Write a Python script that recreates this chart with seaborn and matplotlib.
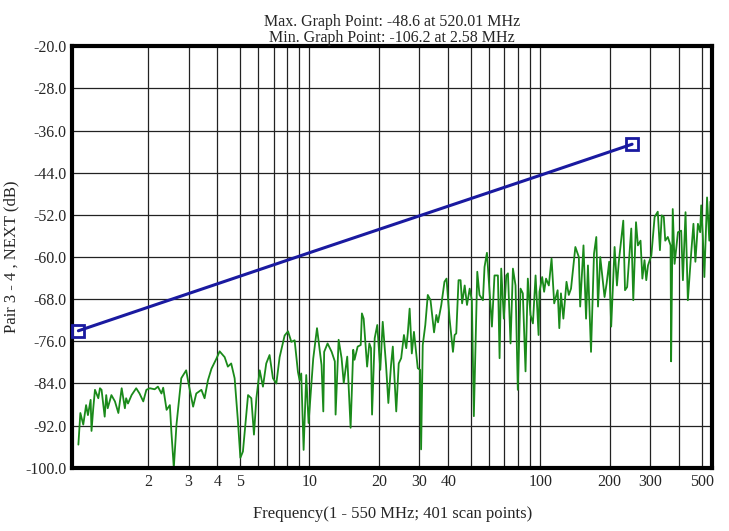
import numpy as np
import pandas as pd
import matplotlib
matplotlib.use("Agg")
import matplotlib.pyplot as plt
import seaborn as sns
from matplotlib.ticker import FixedLocator, NullFormatter

# measured NEXT trace (MHz, dB)
freq = [1.00, 1.02, 1.05, 1.08, 1.10, 1.13, 1.14, 1.16, 1.18, 1.22, 1.24, 1.26, 1.30, 1.32, 1.34,
        1.39, 1.44, 1.49, 1.54, 1.59, 1.61, 1.64, 1.70, 1.78, 1.84, 1.91, 1.97, 2.04, 2.14, 2.21,
        2.29, 2.33, 2.41, 2.49, 2.53, 2.59, 2.66, 2.79, 2.93, 3.00, 3.14, 3.24, 3.41, 3.52, 3.64,
        3.77, 3.96, 4.09, 4.30, 4.44, 4.59, 4.75, 4.91, 5.03, 5.16, 5.43, 5.61, 5.76, 5.90, 6.10,
        6.30, 6.51, 6.73, 6.96, 7.20, 7.44, 7.82, 8.09, 8.36, 8.64, 8.93, 9.08, 9.23, 9.45, 9.70,
        9.93, 10.4, 10.8, 11.3, 11.5, 11.6, 12.0, 12.5, 12.9, 13.0, 13.4, 13.8, 14.1, 14.6, 15.1,
        15.5, 15.7, 16.2, 16.7, 16.9, 17.2, 17.8, 18.2, 18.5, 18.7, 19.2, 19.7, 20.3, 20.8, 21.5,
        22.0, 22.6, 23.0, 23.8, 24.4, 25.0, 25.7, 26.3, 26.7, 27.2, 27.8, 28.4, 29.5, 30.2, 30.5,
        31.0, 31.8, 32.6, 33.5, 34.7, 35.5, 36.1, 37.3, 38.5, 39.3, 40.5, 41.9, 42.6, 43.3, 44.3,
        45.2, 45.9, 47.1, 48.2, 49.5, 50.6, 51.6, 53.4, 54.6, 56.5, 57.4, 58.8, 60.1, 61.8, 63.4,
        65.6, 66.7, 67.8, 69.6, 71.3, 72.5, 74.4, 76.2, 78.2, 80.0, 82.2, 84.1, 86.4, 88.4, 90.8,
        93.0, 95.5, 98.4, 99.3, 102, 104, 106, 109, 112, 115, 119, 121, 123, 126, 130,
        133, 136, 142, 147, 149, 154, 158, 161, 166, 171, 175, 178, 182, 190, 194,
        199, 203, 210, 215, 219, 229, 233, 238, 248, 253, 260, 265, 272, 277, 283,
        288, 293, 303, 313, 323, 330, 336, 343, 348, 357, 367, 369, 375, 382, 395,
        408, 415, 426, 436, 451, 461, 470, 482, 493, 498, 506, 514, 528, 540, 546, 556]
next_db = [-95.6, -89.6, -91.8, -88.1, -90.0, -87.1, -93.0, -88.7, -85.2, -86.8, -84.9, -85.2, -90.3, -86.2, -88.7,
           -86.2, -87.4, -89.6, -84.9, -88.7, -86.8, -87.8, -86.2, -84.9, -85.9, -87.4, -85.2, -84.9, -85.1, -84.6,
           -85.9, -84.8, -89.0, -88.1, -93.4, -100.0, -91.8, -83.0, -81.5, -84.0, -88.4, -85.9, -85.2, -86.8, -83.4,
           -81.2, -79.3, -77.9, -79.0, -80.8, -80.2, -83.0, -91.2, -98.1, -96.9, -86.2, -86.8, -93.7, -86.8, -81.5,
           -84.6, -80.2, -78.6, -83.0, -84.0, -79.0, -74.9, -74.1, -76.1, -75.8, -81.8, -83.4, -82.1, -96.6, -82.4,
           -91.5, -79.3, -73.5, -80.5, -89.3, -78.0, -76.4, -78.0, -79.8, -89.9, -75.7, -79.2, -83.9, -78.9, -92.4,
           -77.6, -79.5, -77.0, -76.7, -70.7, -71.7, -80.8, -76.4, -77.3, -89.9, -75.4, -72.9, -81.4, -72.3, -80.5,
           -87.7, -80.5, -77.0, -89.3, -80.2, -79.2, -74.8, -77.3, -74.5, -69.8, -78.3, -74.2, -81.1, -81.4, -96.5,
           -76.7, -72.9, -67.2, -68.2, -74.3, -71.0, -72.4, -69.1, -64.7, -64.1, -71.7, -78.0, -74.8, -74.5, -64.4,
           -64.4, -68.8, -65.4, -69.1, -66.0, -68.2, -90.2, -62.8, -67.2, -68.2, -61.9, -59.2, -65.4, -73.2, -63.5,
           -63.5, -79.2, -62.2, -71.7, -63.5, -63.1, -76.4, -62.2, -65.4, -85.2, -66.0, -66.9, -81.7, -64.1, -71.0,
           -72.6, -63.5, -74.8, -66.6, -63.8, -66.6, -64.1, -65.4, -60.3, -68.8, -66.3, -73.5, -66.9, -71.7, -64.7,
           -67.2, -66.0, -58.1, -60.0, -69.4, -57.8, -71.7, -61.6, -78.0, -59.4, -56.2, -69.4, -60.0, -67.6, -65.0,
           -60.9, -73.2, -58.1, -65.4, -60.9, -53.1, -66.3, -65.7, -54.6, -68.2, -53.4, -57.8, -56.9, -64.1, -60.6,
           -64.4, -61.6, -59.7, -52.4, -51.4, -58.7, -52.1, -52.4, -56.9, -56.2, -57.8, -79.8, -50.9, -61.3, -55.3,
           -55.0, -64.4, -51.5, -68.2, -59.1, -53.7, -60.9, -53.7, -55.3, -50.2, -55.9, -63.8, -48.7, -56.9, -49.5, -56.0]

# limit line (MHz, dB)
limit_freq = [1, 10, 100, 250]
limit_db = [-74.0, -59.2, -44.5, -38.6]

y_ticks = [-20.0, -28.0, -36.0, -44.0, -52.0, -60.0, -68.0, -76.0, -84.0, -92.0, -100.0]
x_labels = [2, 3, 4, 5, 10, 20, 30, 40, 100, 200, 300, 500]

sns.set_style("white")
plt.rcParams['font.family'] = ['Liberation Serif', 'DejaVu Serif']

fig = plt.figure(figsize=(7.29, 5.31), dpi=100)
ax = fig.add_axes([0.099, 0.119, 0.878, 0.794])

sns.lineplot(x=freq, y=next_db, ax=ax, color='#1a8a1a', lw=1.3, sort=False, estimator=None)
sns.lineplot(x=limit_freq, y=limit_db, ax=ax, color='#1a1aa0', lw=2.2, sort=False, estimator=None)
ax.plot([limit_freq[0], limit_freq[-1]], [limit_db[0], limit_db[-1]], ls='none', marker='s',
        ms=9, mfc='none', mec='#1a1aa0', mew=2, clip_on=False, zorder=5)

ax.set_xscale('log')
ax.set_xlim(0.94, 556)
ax.set_ylim(-100, -20)

minor = [m * 10 ** d for d in range(3) for m in range(2, 10) if m * 10 ** d < 556]
ax.xaxis.set_major_locator(FixedLocator([10, 100]))
ax.xaxis.set_minor_locator(FixedLocator(minor))
ax.xaxis.set_major_formatter(NullFormatter())
ax.xaxis.set_minor_formatter(NullFormatter())
for v in x_labels:
    ax.text(v, -101.2, str(v), ha='center', va='top', fontsize=11.5)
ax.set_yticks(y_ticks)
ax.set_yticklabels([f"{v:.1f}" for v in y_ticks], fontsize=11.5)
ax.tick_params(axis='both', length=0)
ax.tick_params(axis='y', pad=4)

ax.grid(True, which='both', axis='x', color='#222222', lw=0.9)
ax.grid(True, which='major', axis='y', color='#222222', lw=0.9)
for s in ax.spines.values():
    s.set_linewidth(3)
    s.set_color('black')

ax.set_xlabel('Frequency(1 - 550 MHz; 401 scan points)', fontsize=12, labelpad=22)
ax.set_ylabel('Pair 3 - 4 , NEXT (dB)', fontsize=12)
ax.set_title('Max. Graph Point: -48.6 at 520.01 MHz\nMin. Graph Point: -106.2 at 2.58 MHz',
             fontsize=11.5, linespacing=1.0, pad=3)

fig.savefig('out.png', dpi=100)
